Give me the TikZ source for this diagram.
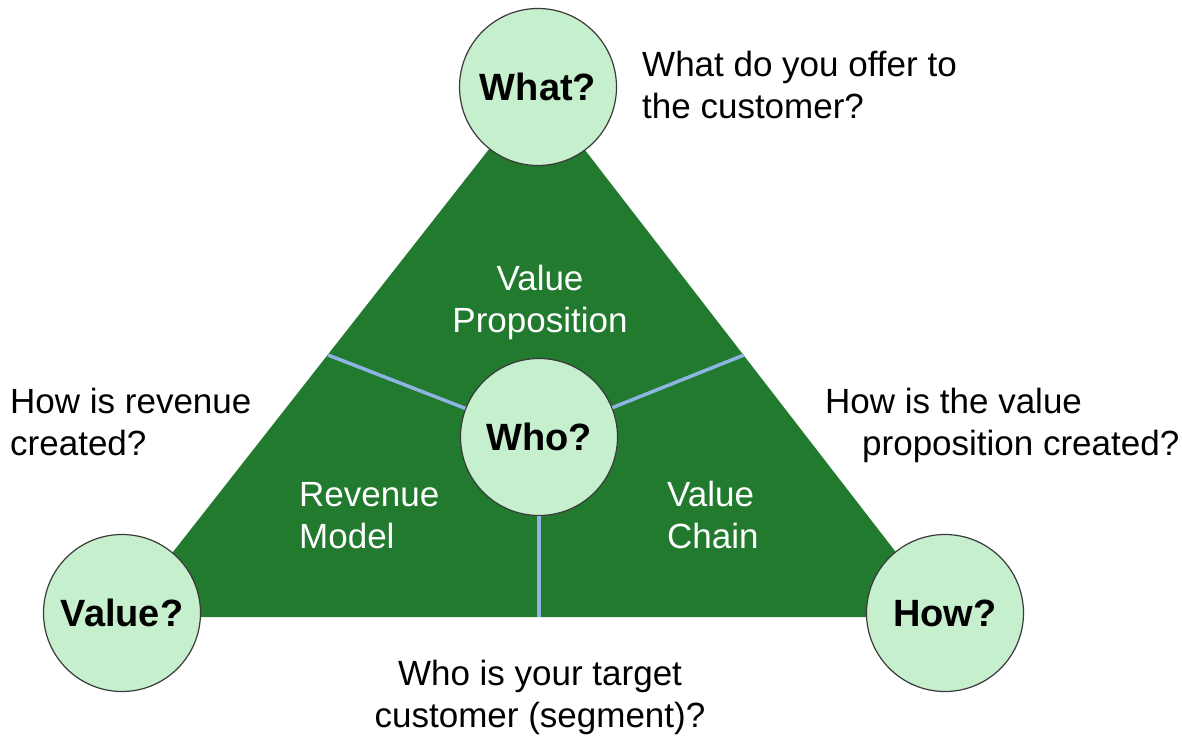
\documentclass[tikz,border=0pt]{standalone}
\usepackage{fontspec}
\setmainfont{Liberation Sans}
\definecolor{tri}{HTML}{217A2E}
\definecolor{circ}{HTML}{C6EFCE}
\definecolor{divline}{HTML}{8DB4E2}
\definecolor{ring}{HTML}{3A3A3A}
\begin{document}
\begin{tikzpicture}[x=1pt,y=-1pt,
  q/.style={circle,draw=ring,line width=1.2pt,fill=circ,minimum size=157pt,inner sep=0pt,
            font=\fontsize{38}{44}\selectfont\bfseries},
  lbl/.style={inner sep=0pt,font=\fontsize{35}{42}\selectfont},
  wlbl/.style={lbl,text=white},
  divider/.style={draw=divline,line width=3.5pt}]
\useasboundingbox (0,0) rectangle (1182,742);
\coordinate (tA) at (537,88);
\coordinate (tL) at (122,617);
\coordinate (tR) at (946,617);
\fill[tri] (tA) -- (tL) -- (tR) -- cycle;
\node[q] (who) at (539,437) {Who?};
\coordinate (dl) at (328,355);
\coordinate (dr) at (744,355);
\coordinate (db) at (539,617);
\draw[divider] (who) -- (dl);
\draw[divider] (who) -- (dr);
\draw[divider] (who) -- (db);
\node[q] (what) at (538,87) {What?};
\node[q] (value) at (122,613) {Value?};
\node[q] (how) at (945,613) {How?};
\node[wlbl,align=center,anchor=base] (vp) at (540,332) {Value\\Proposition};
\node[wlbl,align=left,anchor=base west] (rm) at (299,548) {Revenue\\Model};
\node[wlbl,align=left,anchor=base west] (vc) at (667,548) {Value\\Chain};
\node[lbl,align=left,anchor=base west] (whatq) at (642,118) {What do you offer to\\the customer?};
\node[lbl,align=left,anchor=base west] (revq) at (10,455) {How is revenue\\created?};
\node[lbl,align=left,anchor=base west] (howq) at (825,455) {How is the value\\\hspace*{37pt}proposition created?};
\node[lbl,align=center,anchor=base] (whoq) at (540,727) {Who is your target\\customer (segment)?};
\end{tikzpicture}
\end{document}
